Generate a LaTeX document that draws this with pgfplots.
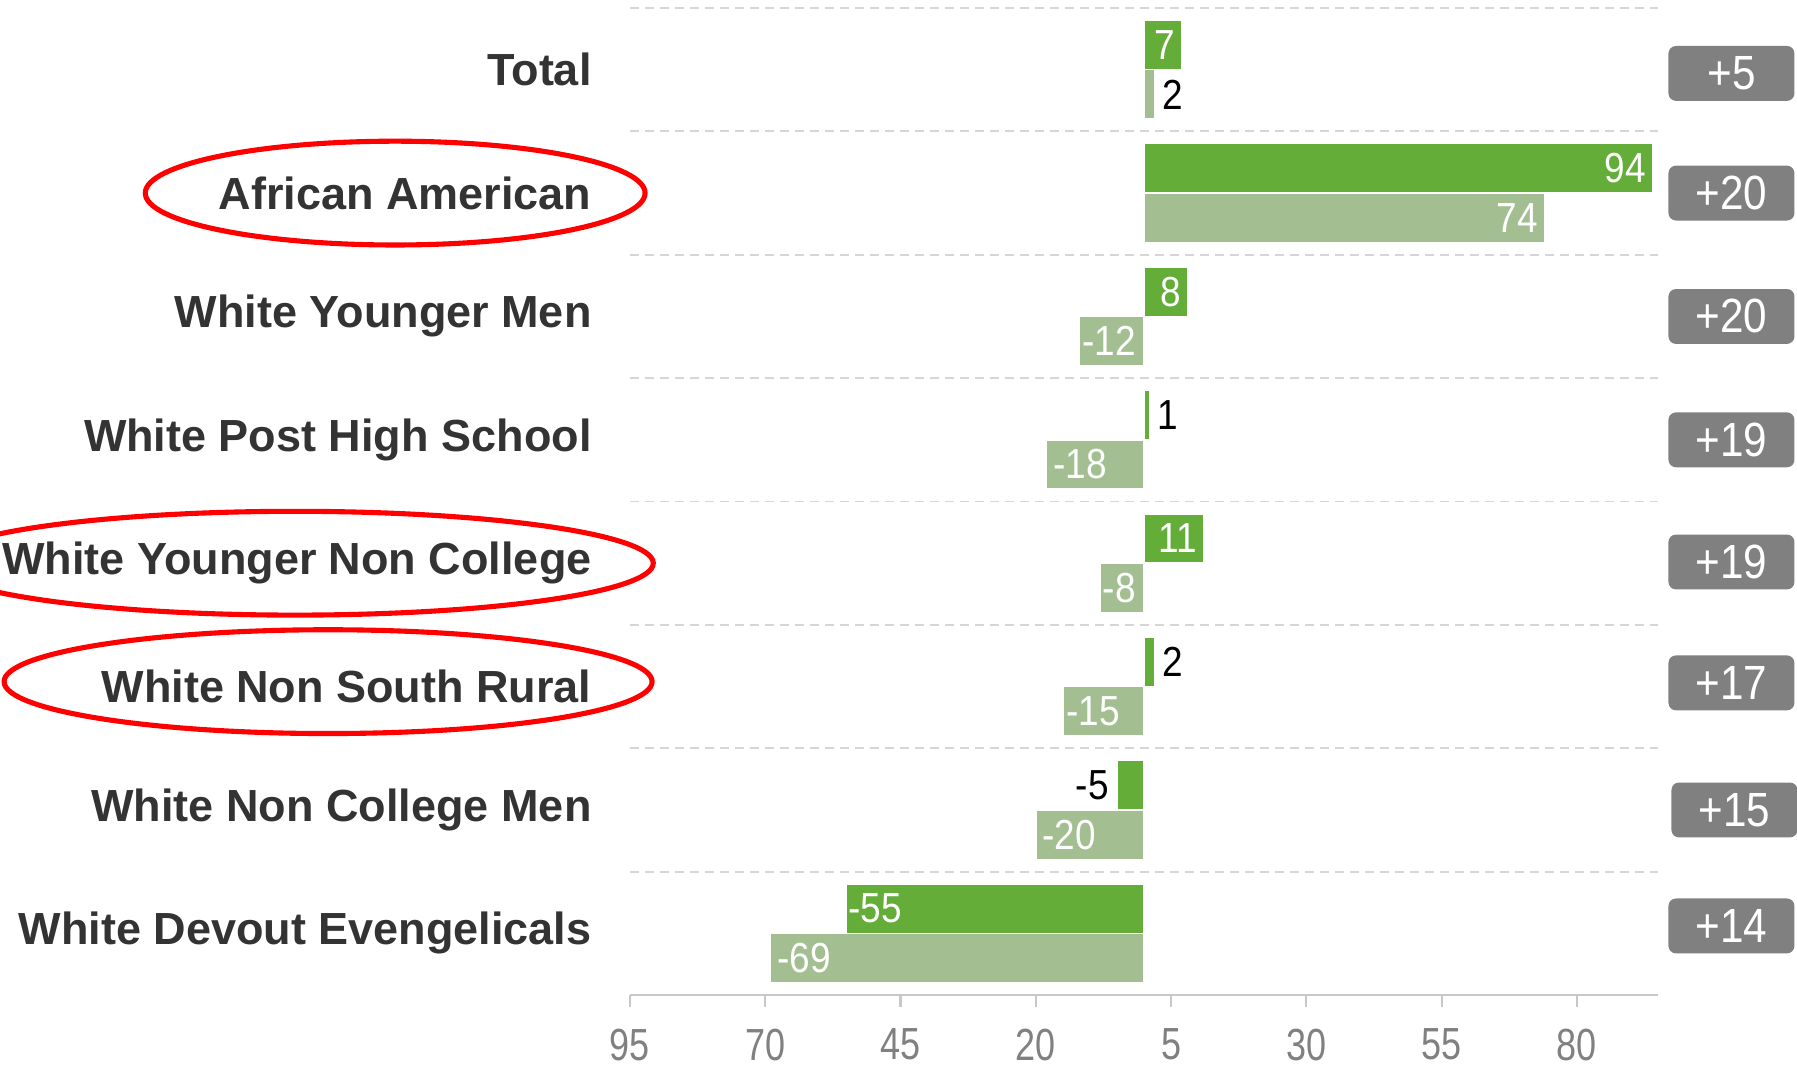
\documentclass[border=0pt]{standalone}
\usepackage{fontspec}
\setmainfont{Liberation Sans}
\newfontfamily\numfont[FakeStretch=0.88]{Liberation Sans}
\newfontfamily\tickfont[FakeStretch=0.8]{Liberation Sans}
\usepackage{pgfplots}
\pgfplotsset{compat=1.18}
\definecolor{dgreen}{HTML}{63AD38}
\definecolor{lgreen}{HTML}{A3BF91}
\definecolor{boxgray}{HTML}{808080}
\definecolor{tickgray}{HTML}{808080}
\definecolor{axisgray}{HTML}{C8C8C8}
\definecolor{gridgray}{HTML}{D6D6D6}
\definecolor{labelgray}{HTML}{333333}
\tikzset{
  wlab/.style={font=\numfont\fontsize{14}{14}\selectfont, text=white, inner sep=2pt},
  blab/.style={font=\numfont\fontsize{14}{14}\selectfont, text=black, inner sep=2.5pt},
  nbox/.style={fill=boxgray, rounded corners=2.5pt, minimum width=42pt, minimum height=18.3pt, inner sep=0pt, text=white, font=\numfont\fontsize{16}{16}\selectfont},
}
\begin{document}
\begin{tikzpicture}
\begin{axis}[
  at={(0,0)}, anchor=south west,
  scale only axis, width=342.67pt, height=329pt,
  xmin=-95, xmax=95, ymin=-0.5, ymax=7.5, y dir=reverse,
  xbar, bar width=0.4, bar shift=0pt,
  clip=false,
  axis x line*=bottom, axis y line*=left,
  x axis line style={draw=axisgray, line width=0.9pt},
  y axis line style={draw=none},
  tick align=outside,
  major tick length=4pt,
  xtick={-95,-70,-45,-20,5,30,55,80},
  xticklabels={95,70,45,20,5,30,55,80},
  x tick style={draw=axisgray, line width=0.7pt},
  xticklabel style={font=\tickfont\fontsize{15}{15}\selectfont, text=tickgray, inner sep=0pt, text depth=0pt, yshift=-7pt},
  ytick={0,1,2,3,4,5,6,7},
  yticklabels={Total,African American,White Younger Men,White Post High School,White Younger Non College,White Non South Rural,White Non College Men,White Devout Evengelicals},
  y tick style={draw=none},
  yticklabel style={font=\bfseries\fontsize{15}{15}\selectfont, text=labelgray, xshift=-5.3pt},
  extra y ticks={-0.5,0.5,1.5,2.5,3.5,4.5,5.5,6.5},
  extra y tick labels={},
  extra y tick style={grid=major, major grid style={draw=gridgray, line width=0.6pt, dash pattern=on 3pt off 2pt}},
]
\addplot[fill=dgreen, draw=white, line width=0.5pt] coordinates {(7,-0.2) (94,0.8) (8,1.8) (1,2.8) (11,3.8) (2,4.8) (-5,5.8) (-55,6.8)};
\addplot[fill=lgreen, draw=white, line width=0.5pt] coordinates {(2,0.2) (74,1.2) (-12,2.2) (-18,3.2) (-8,4.2) (-15,5.2) (-20,6.2) (-69,7.2)};

% value labels, darker bars
\node[wlab, anchor=east] at (axis cs:7,-0.2) {7};
\node[wlab, anchor=east] at (axis cs:94,0.8) {94};
\node[wlab, anchor=east] at (axis cs:8,1.8) {8};
\node[blab, anchor=west] at (axis cs:1,2.8) {1};
\node[wlab, anchor=east] at (axis cs:11,3.8) {11};
\node[blab, anchor=west] at (axis cs:2,4.8) {2};
\node[blab, anchor=east] at (axis cs:-5,5.8) {-5};
\node[wlab, anchor=west, inner sep=0.5pt] at (axis cs:-55,6.8) {-55};
% value labels, lighter bars
\node[blab, anchor=west] at (axis cs:2,0.2) {2};
\node[wlab, anchor=east] at (axis cs:74,1.2) {74};
\node[wlab, anchor=west, inner sep=1pt] at (axis cs:-12,2.2) {-12};
\node[wlab, anchor=west] at (axis cs:-18,3.2) {-18};
\node[wlab, anchor=west, inner sep=0.5pt] at (axis cs:-8,4.2) {-8};
\node[wlab, anchor=west, inner sep=1pt] at (axis cs:-15,5.2) {-15};
\node[wlab, anchor=west] at (axis cs:-20,6.2) {-20};
\node[wlab, anchor=west] at (axis cs:-69,7.2) {-69};

% gap boxes
\node[nbox, xshift=24.5pt] at (axis cs:95,0.03) {+5};
\node[nbox, xshift=24.5pt] at (axis cs:95,1) {+20};
\node[nbox, xshift=24.5pt] at (axis cs:95,2) {+20};
\node[nbox, xshift=24.5pt] at (axis cs:95,3) {+19};
\node[nbox, xshift=24.5pt] at (axis cs:95,3.99) {+19};
\node[nbox, xshift=24.5pt] at (axis cs:95,4.97) {+17};
\node[nbox, xshift=25.5pt] at (axis cs:95,6) {+15};
\node[nbox, xshift=24.5pt] at (axis cs:95,6.94) {+14};

% highlight ellipses
\draw[red, line width=1.7pt] (axis cs:-138.4,1) ellipse [x radius=83.3pt, y radius=17.3pt];
\draw[red, line width=1.7pt] (axis cs:-156.9,4) ellipse [x radius=119.4pt, y radius=17.3pt];
\draw[red, line width=1.7pt] (axis cs:-150.8,4.96) ellipse [x radius=108pt, y radius=17.3pt];
\end{axis}
\pgfresetboundingbox
\path[use as bounding box] (-210pt,-23.33pt) rectangle (389pt,331.67pt);
\end{tikzpicture}
\end{document}
